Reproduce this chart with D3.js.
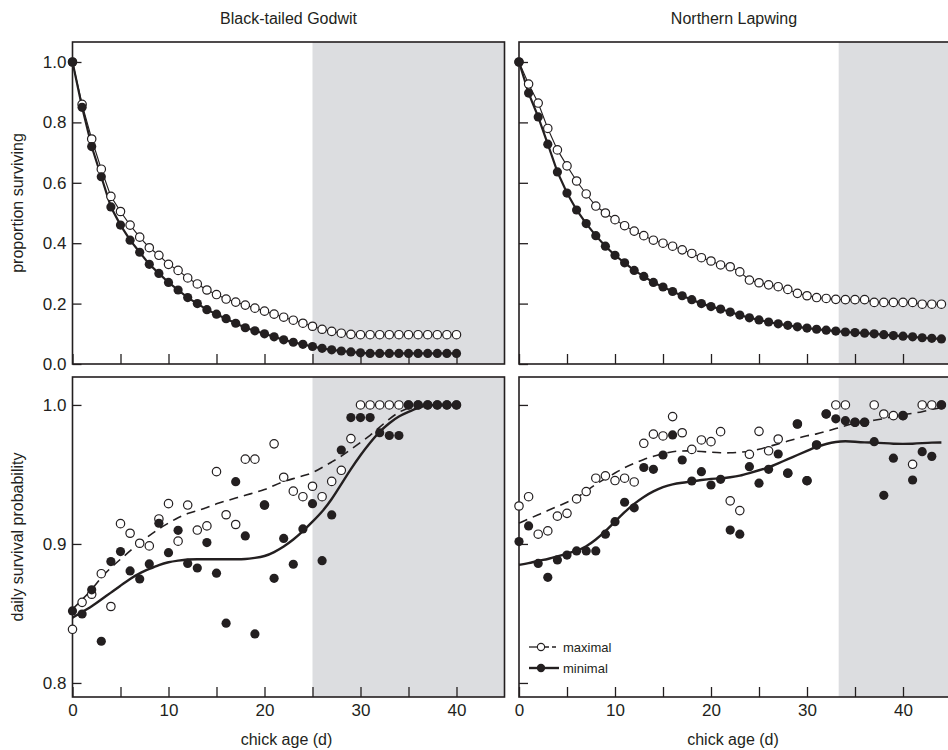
<!DOCTYPE html>
<html><head><meta charset="utf-8">
<script src="https://cdn.jsdelivr.net/npm/d3@7"></script>
<style>
body{margin:0;background:#fff}
text{font-family:"Liberation Sans",Arial,Helvetica,sans-serif;fill:#231f20}
</style>
</head><body>
<svg id="c" width="948" height="750"></svg>
<script>
// ---------------- DATA ----------------
const speciesNames = ["Black-tailed Godwit", "Northern Lapwing"];
const xTicks = [0, 5, 10, 15, 20, 25, 30, 35, 40];
const xTickLabels = ["0", "", "10", "", "20", "", "30", "", "40"];
const survTicks = [0, 0.2, 0.4, 0.6, 0.8, 1.0];
const dailyTicks = [0.8, 0.9, 1.0];
const shadeStart = [25, 33.3];

const godwitAge = [0,1,2,3,4,5,6,7,8,9,10,11,12,13,14,15,16,17,18,19,20,21,22,23,24,25,26,27,28,29,30,31,32,33,34,35,36,37,38,39,40];
const lapwingAge = [0,1,2,3,4,5,6,7,8,9,10,11,12,13,14,15,16,17,18,19,20,21,22,23,24,25,26,27,28,29,30,31,32,33,34,35,36,37,38,39,40,41,42,43,44];

// proportion surviving
const godwitSurvMax = [1.0,0.86,0.745,0.645,0.555,0.505,0.46,0.42,0.385,0.36,0.33,0.31,0.285,0.265,0.245,0.23,0.215,0.205,0.195,0.185,0.175,0.165,0.155,0.145,0.135,0.125,0.115,0.108,0.102,0.098,0.097,0.097,0.097,0.097,0.097,0.097,0.097,0.097,0.097,0.097,0.097];
const godwitSurvMin = [1.0,0.85,0.72,0.62,0.52,0.46,0.41,0.37,0.33,0.30,0.27,0.245,0.22,0.20,0.18,0.165,0.15,0.135,0.12,0.11,0.10,0.09,0.08,0.072,0.065,0.058,0.052,0.047,0.043,0.04,0.037,0.035,0.035,0.035,0.035,0.035,0.035,0.035,0.035,0.035,0.035];
const lapwingSurvMax = [1.0,0.927,0.864,0.78,0.709,0.656,0.606,0.563,0.523,0.5,0.478,0.458,0.44,0.425,0.41,0.4,0.39,0.378,0.366,0.352,0.341,0.328,0.322,0.305,0.278,0.269,0.262,0.256,0.247,0.234,0.226,0.22,0.217,0.214,0.213,0.213,0.213,0.204,0.204,0.204,0.204,0.204,0.198,0.198,0.198];
const lapwingSurvMin = [1.0,0.897,0.818,0.728,0.636,0.566,0.51,0.465,0.425,0.39,0.36,0.335,0.31,0.29,0.27,0.255,0.24,0.226,0.213,0.2,0.19,0.182,0.172,0.162,0.153,0.146,0.139,0.133,0.128,0.123,0.119,0.115,0.112,0.109,0.106,0.104,0.102,0.1,0.097,0.094,0.092,0.09,0.087,0.085,0.083];

// daily survival probability (points)
const godwitDailyMax = [0.8386,0.858,0.8638,0.8786,0.855,0.9146,0.9077,0.9005,0.8986,0.918,0.929,0.902,0.928,0.910,0.913,0.952,0.921,0.914,0.961,0.961,0.928,0.972,0.948,0.938,0.934,0.9415,0.934,0.945,0.953,0.9758,1.0,1.0,1.0,1.0,1.0,1.0,1.0,1.0,1.0,1.0,1.0];
const godwitDailyMin = [0.8518,0.8496,0.867,0.830,0.8873,0.8945,0.8806,0.8748,0.8856,0.9149,0.8937,0.9098,0.886,0.8827,0.901,0.879,0.843,0.9448,0.9058,0.8353,0.928,0.8753,0.904,0.8854,0.9108,0.929,0.888,0.9209,0.9676,0.9909,0.9909,0.9909,0.980,0.978,0.978,1.0,1.0,1.0,1.0,1.0,1.0];
const lapwingDailyMax = [0.9273,0.934,0.907,0.9094,0.920,0.922,0.9324,0.9377,0.9473,0.949,0.9456,0.9473,0.9446,0.9724,0.979,0.9777,0.9916,0.980,0.968,0.9748,0.9736,0.9808,0.931,0.924,0.9645,0.981,0.967,0.9755,0.9509,0.9863,0.9455,0.9712,0.9935,1.0,1.0,0.9875,0.9875,1.0,0.9935,0.9923,0.9923,0.9573,1.0,1.0,1.0];
const lapwingDailyMin = [0.9017,0.913,0.886,0.876,0.8885,0.892,0.895,0.895,0.895,0.907,0.916,0.930,0.926,0.955,0.9537,0.964,0.9784,0.9604,0.9453,0.952,0.9424,0.9465,0.910,0.907,0.9556,0.9437,0.9537,0.9647,0.9509,0.9863,0.9455,0.9712,0.9935,0.990,0.9887,0.9875,0.9875,0.9736,0.935,0.9617,0.9923,0.946,0.9664,0.963,1.0];

// daily survival probability (fitted curves)
const godwitFitMax = [0.853,0.86,0.867,0.876,0.883,0.889,0.895,0.901,0.906,0.911,0.915,0.919,0.922,0.924,0.926,0.929,0.931,0.933,0.935,0.937,0.939,0.942,0.945,0.947,0.949,0.951,0.955,0.959,0.963,0.968,0.973,0.978,0.984,0.99,0.995,0.998,1.0,1.0,1.0,1.0,1.0];
const godwitFitMin = [0.847,0.851,0.855,0.86,0.865,0.87,0.875,0.879,0.882,0.885,0.887,0.888,0.889,0.889,0.889,0.889,0.889,0.889,0.889,0.89,0.891,0.894,0.898,0.903,0.909,0.916,0.923,0.932,0.943,0.954,0.964,0.973,0.981,0.987,0.992,0.995,0.998,1.0,1.0,1.0,1.0];
const lapwingFitMax = [0.915,0.918,0.921,0.924,0.927,0.930,0.933,0.938,0.943,0.947,0.951,0.955,0.958,0.961,0.963,0.965,0.9665,0.967,0.967,0.9665,0.966,0.9655,0.9655,0.966,0.9665,0.968,0.970,0.972,0.974,0.976,0.978,0.979,0.981,0.983,0.985,0.987,0.988,0.989,0.990,0.992,0.993,0.994,0.995,0.997,0.998];
const lapwingFitMin = [0.885,0.886,0.888,0.889,0.891,0.893,0.895,0.898,0.903,0.909,0.916,0.923,0.929,0.934,0.938,0.941,0.943,0.944,0.945,0.946,0.947,0.947,0.948,0.949,0.951,0.953,0.955,0.958,0.961,0.964,0.967,0.970,0.972,0.9735,0.974,0.9735,0.973,0.973,0.9725,0.972,0.972,0.972,0.9725,0.973,0.973];

// ---------------- LAYOUT ----------------
const svg = d3.select("#c");
const INK = "#231f20";
const SHADE = "#dcdde0";
const colX = [72.5, 519];
const panelW = 432;
const topY = [42, 364];
const botY = [377, 697];
const xDomain = [0, 45];
const survDomain = [0, 1.0662];
const dailyDomain = [0.7899, 1.0201];

function panel(col, row, ages, ptsMax, ptsMin, lineMax, lineMin) {
  const x0 = colX[col], x1 = colX[col] + panelW;
  const [y0, y1] = row === 0 ? topY : botY;
  const x = d3.scaleLinear().domain(xDomain).range([x0, x1]);
  const y = d3.scaleLinear().domain(row === 0 ? survDomain : dailyDomain).range([y1, y0]);
  const g = svg.append("g");

  // shading
  g.append("rect").attr("x", x(shadeStart[col])).attr("y", y0)
    .attr("width", x1 - x(shadeStart[col])).attr("height", y1 - y0).attr("fill", SHADE);

  // axes (ticks pointing inward)
  const ax = g.append("g").attr("transform", `translate(0,${y1})`)
    .call(d3.axisBottom(x).tickValues(xTicks).tickSize(-10).tickPadding(7)
      .tickFormat((d, i) => row === 1 ? xTickLabels[i] : ""));
  ax.select(".domain").remove();
  ax.selectAll("line").attr("stroke", INK).attr("stroke-width", 1.3);
  ax.selectAll("text").attr("font-size", 17).attr("fill", INK);

  const ay = g.append("g").attr("transform", `translate(${x0},0)`)
    .call(d3.axisLeft(y).tickValues(row === 0 ? survTicks : dailyTicks).tickSize(-9).tickPadding(6)
      .tickFormat(col === 0 ? d3.format(".1f") : () => ""));
  ay.select(".domain").remove();
  ay.selectAll("line").attr("stroke", INK).attr("stroke-width", 1.3);
  ay.selectAll("text").attr("font-size", 17).attr("fill", INK);

  // frame
  g.append("rect").attr("x", x0).attr("y", y0).attr("width", x1 - x0).attr("height", y1 - y0)
    .attr("fill", "none").attr("stroke", INK).attr("stroke-width", 1.6);

  const line = (vals, curve) => d3.line().curve(curve).x((d, i) => x(ages[i])).y(d => y(d))(vals);

  if (row === 0) {
    g.append("path").attr("d", line(ptsMax, d3.curveLinear)).attr("fill", "none").attr("stroke", INK).attr("stroke-width", 1.1);
    g.append("path").attr("d", line(ptsMin, d3.curveLinear)).attr("fill", "none").attr("stroke", INK).attr("stroke-width", 2.2);
  } else {
    g.append("path").attr("d", line(lineMax, d3.curveBasis)).attr("fill", "none").attr("stroke", INK)
      .attr("stroke-width", 1.6).attr("stroke-dasharray", "9,6");
    g.append("path").attr("d", line(lineMin, d3.curveBasis)).attr("fill", "none").attr("stroke", INK).attr("stroke-width", 2.4);
  }

  const r = 4.2;
  g.append("g").selectAll("circle").data(ptsMax).join("circle")
    .attr("cx", (d, i) => x(ages[i])).attr("cy", d => y(d)).attr("r", r)
    .attr("fill", "#fff").attr("stroke", INK).attr("stroke-width", 1.2);
  g.append("g").selectAll("circle").data(ptsMin).join("circle")
    .attr("cx", (d, i) => x(ages[i])).attr("cy", d => y(d)).attr("r", r + 0.4)
    .attr("fill", INK);
}

panel(0, 0, godwitAge, godwitSurvMax, godwitSurvMin);
panel(1, 0, lapwingAge, lapwingSurvMax, lapwingSurvMin);
panel(0, 1, godwitAge, godwitDailyMax, godwitDailyMin, godwitFitMax, godwitFitMin);
panel(1, 1, lapwingAge, lapwingDailyMax, lapwingDailyMin, lapwingFitMax, lapwingFitMin);

// titles
speciesNames.forEach((s, i) => {
  svg.append("text").attr("x", colX[i] + panelW / 2 - (i === 1 ? 1 : 0)).attr("y", 24)
    .attr("text-anchor", "middle").attr("font-size", 16).text(s);
});
// x-axis titles
[0, 1].forEach(i => {
  svg.append("text").attr("x", colX[i] + 214).attr("y", 745)
    .attr("text-anchor", "middle").attr("font-size", 16).text("chick age (d)");
});
// y-axis titles
svg.append("text").attr("transform", `translate(23,${(topY[0] + topY[1]) / 2}) rotate(-90)`)
  .attr("text-anchor", "middle").attr("font-size", 16).text("proportion surviving");
svg.append("text").attr("transform", `translate(23,${(botY[0] + botY[1]) / 2}) rotate(-90)`)
  .attr("text-anchor", "middle").attr("font-size", 16).text("daily survival probability");

// legend
const legendItems = ["maximal", "minimal"];
const lg = svg.append("g").attr("transform", "translate(529,647)");
legendItems.forEach((name, i) => {
  const gy = i * 21;
  if (i === 0) {
    lg.append("line").attr("x1", 0).attr("x2", 8).attr("y1", gy).attr("y2", gy).attr("stroke", INK).attr("stroke-width", 1.3);
    lg.append("line").attr("x1", 16).attr("x2", 30).attr("y1", gy).attr("y2", gy).attr("stroke", INK)
      .attr("stroke-width", 1.3).attr("stroke-dasharray", "4,3");
    lg.append("circle").attr("cx", 12).attr("cy", gy).attr("r", 3.6).attr("fill", "#fff").attr("stroke", INK).attr("stroke-width", 1.1);
  } else {
    lg.append("line").attr("x1", 0).attr("x2", 30).attr("y1", gy).attr("y2", gy).attr("stroke", INK).attr("stroke-width", 2.4);
    lg.append("circle").attr("cx", 12).attr("cy", gy).attr("r", 4.2).attr("fill", INK);
  }
  lg.append("text").attr("x", 34).attr("y", gy + 4.5).attr("font-size", 13).text(name);
});
</script>
</body></html>
